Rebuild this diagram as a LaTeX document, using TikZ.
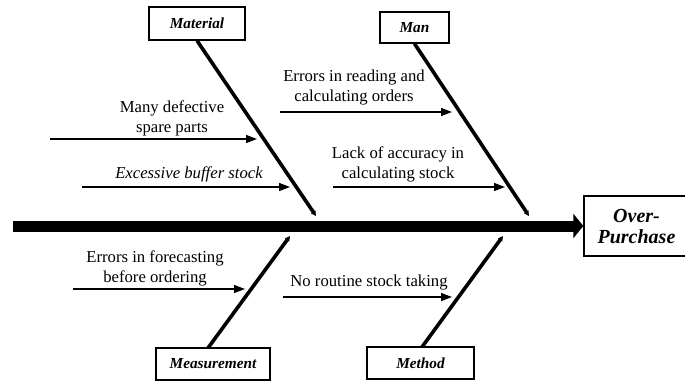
\documentclass[tikz,border=0pt]{standalone}
\usepackage{fontspec}
\setmainfont{Liberation Serif}
\usetikzlibrary{arrows.meta}
\begin{document}
\begin{tikzpicture}[x=1pt,y=-1pt,
  catbox/.style={draw,line width=1.3pt,minimum width=#1,inner sep=0pt,font=\fontsize{15.3}{17}\selectfont\bfseries\itshape},
  bone/.style={line width=3.6pt,-{Triangle[length=5pt,width=5pt]}},
  cause/.style={line width=1.3pt,-{Triangle[length=11pt,width=8pt]}},
  ctext/.style={align=center,inner sep=0pt,font=\fontsize{16.7}{20}\selectfont},
  spine/.style={line width=11pt,-{Triangle[length=10pt,width=24pt]}}]
\useasboundingbox (0,0) rectangle (685,383);
% category boxes
\node[catbox=96pt,minimum height=33pt] (mat) at (197,23.5) {Material};
\node[catbox=69pt,minimum height=31pt] (man) at (414.5,27.5) {Man};
\node[catbox=114pt,minimum height=32pt] (meas) at (213,364) {Measurement};
\node[catbox=107pt,minimum height=32pt] (meth) at (420.5,363) {Method};
\node[catbox=105pt,minimum height=60pt,font=\fontsize{20}{21}\selectfont\bfseries\itshape,align=center] (op) at (636.5,226) {Over-\\Purchase};
% spine
\coordinate (tail) at (13,226);
\draw[spine] (tail) -- (op.west);
% bones
\coordinate (matend) at (316,216);
\coordinate (manend) at (529,216);
\coordinate (measend) at (290,236);
\coordinate (methend) at (503,236);
\coordinate (measstart) at (208,348);
\coordinate (methstart) at (422,347);
\draw[bone] (mat.south) -- (matend);
\draw[bone] (man.south) -- (manend);
\draw[bone] (measstart) -- (measend);
\draw[bone] (methstart) -- (methend);
% cause arrows
\coordinate (a1s) at (50,139);  \coordinate (a1e) at (257,139);
\coordinate (a2s) at (82,187);  \coordinate (a2e) at (290,187);
\coordinate (a3s) at (280,112); \coordinate (a3e) at (452,112);
\coordinate (a4s) at (333,187); \coordinate (a4e) at (505,187);
\coordinate (a5s) at (73,289);  \coordinate (a5e) at (245,289);
\coordinate (a6s) at (283,297); \coordinate (a6e) at (452,297);
\draw[cause] (a1s) -- (a1e);
\draw[cause] (a2s) -- (a2e);
\draw[cause] (a3s) -- (a3e);
\draw[cause] (a4s) -- (a4e);
\draw[cause] (a5s) -- (a5e);
\draw[cause] (a6s) -- (a6e);
% cause texts
\node[ctext] (t1) at (172,118) {Many defective\\spare parts};
\node[ctext,font=\fontsize{16.7}{20}\selectfont\itshape] (t2) at (189,174) {Excessive buffer stock};
\node[ctext] (t3) at (354,87.5) {Errors in reading and\\calculating orders};
\node[ctext] (t4) at (398,164) {Lack of accuracy in\\calculating stock};
\node[ctext] (t5) at (155,268) {Errors in forecasting\\before ordering};
\node[ctext] (t6) at (369,283) {No routine stock taking};
\end{tikzpicture}
\end{document}
